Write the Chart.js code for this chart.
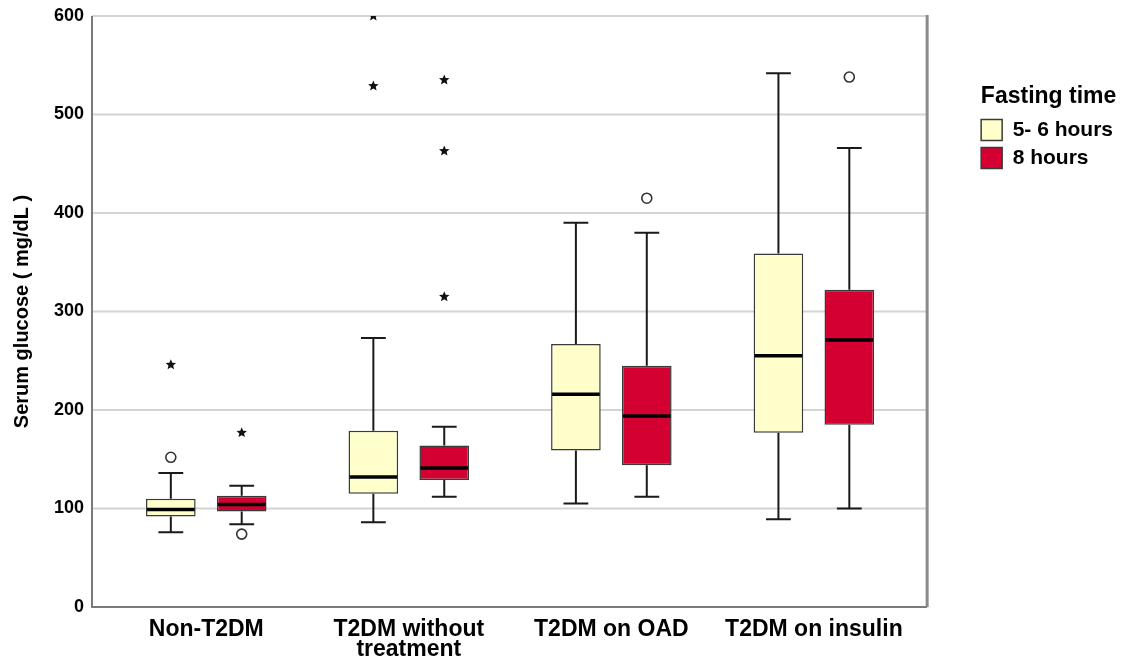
<!DOCTYPE html>
<html>
<head>
<meta charset="utf-8">
<title>Serum glucose by fasting time</title>
<script src="https://cdn.jsdelivr.net/npm/chart.js"></script>
<style>
  html, body { margin: 0; padding: 0; background: #fff; }
</style>
</head>
<body>
<canvas id="myChart" width="1127" height="669"></canvas>
<script>
const ctx = document.getElementById('myChart');

// groups on the x axis
const groups = ['Non-T2DM', ['T2DM without', 'treatment'], 'T2DM on OAD', 'T2DM on insulin'];
const yTicks = [0, 100, 200, 300, 400, 500, 600];

// 5- 6 hours
const shortLow = [76, 86, 105, 89];
const shortQ1 = [92, 115, 159, 177];
const shortMed = [99, 132, 216, 255];
const shortQ3 = [110, 179, 267, 359];
const shortHigh = [136, 273, 390, 542];
const shortCircles = [[152], [], [], []];
const shortStars = [[246], [600, 529], [], []];

// 8 hours
const longLow = [84, 112, 112, 100];
const longQ1 = [97, 129, 144, 185];
const longMed = [104, 141, 194, 271];
const longQ3 = [113, 164, 245, 322];
const longHigh = [123, 183, 380, 466];
const longCircles = [[74], [], [415], [538]];
const longStars = [[177], [535, 463, 315], [], []];

const boxes = [
  { low: shortLow, med: shortMed, high: shortHigh, q1: shortQ1, q3: shortQ3, circles: shortCircles, stars: shortStars },
  { low: longLow, med: longMed, high: longHigh, q1: longQ1, q3: longQ3, circles: longCircles, stars: longStars }
];

Chart.defaults.font.family = "'Liberation Sans', Arial, sans-serif";
Chart.defaults.color = '#000';

const drawStar = (c, cx, cy, r) => {
  c.beginPath();
  for (let k = 0; k < 10; k++) {
    const rad = k % 2 ? r * 0.45 : r;
    const ang = -Math.PI / 2 + k * Math.PI / 5;
    c.lineTo(cx + rad * Math.cos(ang), cy + rad * Math.sin(ang));
  }
  c.closePath();
  c.fill();
};

// frame, grid lines, whiskers, medians and outliers (SPSS look)
const boxPlot = {
  id: 'boxPlot',
  beforeDatasetsDraw(chart) {
    const c = chart.ctx;
    const a = chart.chartArea;
    const y = chart.scales.y;
    const left = a.left - 13, right = a.right + 12;
    c.save();
    c.lineWidth = 2;
    c.strokeStyle = '#d4d4d4';
    yTicks.forEach(v => {
      if (v === 0) return;
      const py = y.getPixelForValue(v);
      c.beginPath(); c.moveTo(left, py); c.lineTo(right, py); c.stroke();
    });
    c.strokeStyle = '#7a7a7a';
    c.beginPath();
    c.moveTo(left, a.top); c.lineTo(left, a.bottom); c.lineTo(right, a.bottom);
    c.stroke();
    c.lineWidth = 3;
    c.strokeStyle = '#8a8a8a';
    c.beginPath(); c.moveTo(right, a.top - 1); c.lineTo(right, a.bottom); c.stroke();
    c.restore();
  },
  afterDatasetsDraw(chart) {
    const c = chart.ctx;
    const a = chart.chartArea;
    const y = chart.scales.y;
    c.save();
    c.beginPath();
    c.rect(a.left - 13, a.top, a.right - a.left + 25, a.bottom - a.top);
    c.clip();
    boxes.forEach((b, d) => {
      chart.getDatasetMeta(d).data.forEach((bar, i) => {
        const x = bar.x, w = bar.width;
        const cap = w / 4;
        c.strokeStyle = '#1a1a1a';
        c.lineWidth = 2;
        c.beginPath();
        c.moveTo(x, y.getPixelForValue(b.q3[i])); c.lineTo(x, y.getPixelForValue(b.high[i]));
        c.moveTo(x - cap, y.getPixelForValue(b.high[i])); c.lineTo(x + cap, y.getPixelForValue(b.high[i]));
        c.moveTo(x, y.getPixelForValue(b.q1[i])); c.lineTo(x, y.getPixelForValue(b.low[i]));
        c.moveTo(x - cap, y.getPixelForValue(b.low[i])); c.lineTo(x + cap, y.getPixelForValue(b.low[i]));
        c.stroke();
        c.lineWidth = 3.5;
        c.strokeStyle = '#000';
        c.beginPath();
        c.moveTo(x - w / 2 + 1, y.getPixelForValue(b.med[i]));
        c.lineTo(x + w / 2 - 1, y.getPixelForValue(b.med[i]));
        c.stroke();
        c.lineWidth = 1.6;
        c.strokeStyle = '#333';
        b.circles[i].forEach(v => {
          c.beginPath();
          c.arc(x, y.getPixelForValue(v), 5, 0, Math.PI * 2);
          c.stroke();
        });
        c.fillStyle = '#111';
        b.stars[i].forEach(v => drawStar(c, x, y.getPixelForValue(v), 5.5));
      });
    });
    c.restore();
  }
};

new Chart(ctx, {
  type: 'bar',
  data: {
    labels: groups,
    datasets: [{
      label: '5- 6 hours',
      data: shortQ1.map((v, i) => [v, shortQ3[i]]),
      backgroundColor: '#FFFFCC',
      borderColor: '#3a3a3a',
      borderWidth: 1.5,
      borderSkipped: false,
      categoryPercentage: 0.7,
      barPercentage: 0.7
    }, {
      label: '8 hours',
      data: longQ1.map((v, i) => [v, longQ3[i]]),
      backgroundColor: '#D50032',
      borderColor: '#3a3a3a',
      borderWidth: 1.5,
      borderSkipped: false,
      categoryPercentage: 0.7,
      barPercentage: 0.7
    }]
  },
  options: {
    responsive: false,
    animation: false,
    layout: { padding: { top: 16, left: 0, right: 4, bottom: 0 } },
    plugins: {
      tooltip: { enabled: false },
      legend: {
        position: 'right',
        align: 'start',
        title: {
          display: true,
          text: 'Fasting time',
          color: '#000',
          font: { size: 23, weight: 'bold' },
          padding: { top: 69, bottom: 0 }
        },
        labels: {
          boxWidth: 21,
          boxHeight: 21,
          padding: 7,
          color: '#000',
          font: { size: 21, weight: 'bold' }
        }
      }
    },
    scales: {
      x: {
        grid: { display: false },
        border: { display: false },
        ticks: {
          color: '#000',
          font: { size: 23, weight: 'bold', lineHeight: 0.85 },
          padding: 5,
          maxRotation: 0,
          autoSkip: false
        },
        afterFit: s => { s.height = 62; }
      },
      y: {
        min: 0,
        max: 600,
        grid: { display: false },
        border: { display: false },
        ticks: {
          stepSize: 100,
          color: '#000',
          font: { size: 18, weight: 'bold' },
          padding: 13
        },
        title: {
          display: true,
          text: 'Serum glucose ( mg/dL )',
          color: '#000',
          font: { size: 20, weight: 'bold' },
          padding: { top: 10, bottom: 0 }
        },
        afterFit: s => {
          s.width = 105;
          s.paddingTop = 0;
          s.paddingBottom = 0;
        }
      },
      gap: {
        position: 'right',
        grid: { display: false },
        border: { display: false },
        ticks: { display: false },
        afterFit: s => { s.width = 59; }
      }
    }
  },
  plugins: [boxPlot]
});
</script>
</body>
</html>
